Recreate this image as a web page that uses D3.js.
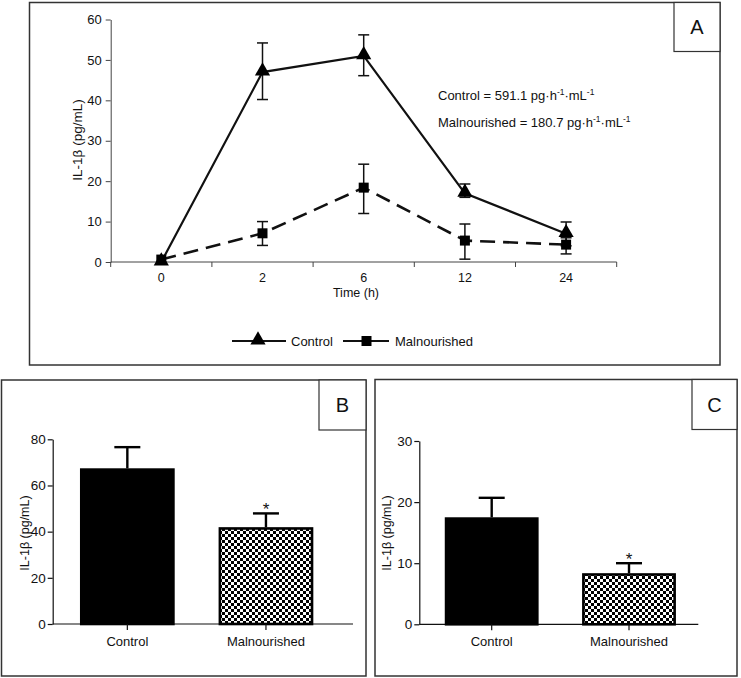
<!DOCTYPE html>
<html><head><meta charset="utf-8">
<script src="https://cdn.jsdelivr.net/npm/d3@7"></script>
<style>body{margin:0;background:#fff}svg{display:block}text{font-family:"Liberation Sans",Arial,sans-serif;fill:#111}</style>
</head><body>
<svg id="c" width="741" height="678"></svg>
<script>
// ---- Data ----
const timeLabels = ["0","2","6","12","24"];
const controlMean = [0, 47, 51, 17, 7];
const controlLow  = [0, 40.2, 46.1, 16, 4];
const controlHigh = [0, 54.2, 56.2, 19.3, 9.9];
const malMean = [0.6, 7.1, 18.4, 5.3, 4.3];
const malLow  = [0.3, 4.1, 12, 0.7, 2];
const malHigh = [0.9, 10, 24.2, 9.4, 6];
const yTicksA = [0,10,20,30,40,50,60];
const groups = ["Control","Malnourished"];
const barB = [67.4, 41.9];
const errB = [76.6, 47.9];
const yTicksB = [0,20,40,60,80];
const barC = [17.5, 8.35];
const errC = [20.7, 10.0];
const yTicksC = [0,10,20,30];
const aucText = [["Control = 591.1 pg","·h","-1","·mL","-1"],["Malnourished = 180.7 pg","·h","-1","·mL","-1"]];

const svg = d3.select("#c");
const defs = svg.append("defs");
const pat = defs.append("pattern").attr("id","chk").attr("patternUnits","userSpaceOnUse")
  .attr("width",6).attr("height",6);
pat.append("rect").attr("width",6).attr("height",6).attr("fill","#fff");
pat.append("rect").attr("width",3).attr("height",3).attr("fill","#000");
pat.append("rect").attr("x",3).attr("y",3).attr("width",3).attr("height",3).attr("fill","#000");

function panel(x,y,w,h,letter,bw,bh){
  svg.append("rect").attr("x",x).attr("y",y).attr("width",w).attr("height",h)
    .attr("fill","none").attr("stroke","#333").attr("stroke-width",1.5);
  svg.append("rect").attr("x",x+w-bw).attr("y",y).attr("width",bw).attr("height",bh)
    .attr("fill","#fff").attr("stroke","#333").attr("stroke-width",1.2);
  svg.append("text").attr("x",x+w-bw/2).attr("y",y+bh/2+7).attr("text-anchor","middle")
    .attr("font-size",20).text(letter);
}

// ---- Panel A ----
panel(29.5,2.5,690.5,362.5,"A",46,49);
const xA = d3.scaleBand().domain(timeLabels).range([110.7,616.7]);
const yA = d3.scaleLinear().domain([0,60]).range([262,19.5]);
const gA = svg.append("g");
const axA = gA.append("g").attr("transform","translate(110.7,0)")
  .call(d3.axisLeft(yA).tickValues(yTicksA).tickSize(5).tickSizeOuter(0));
axA.select(".domain").attr("stroke","#444");
axA.selectAll(".tick line").attr("stroke","#444");
axA.selectAll(".tick text").attr("font-size",13).attr("x",-9).attr("fill","#111");
// x axis
gA.append("line").attr("x1",110.7).attr("x2",616.7).attr("y1",yA(0)).attr("y2",yA(0)).attr("stroke","#444");
const bounds = timeLabels.map(t=>xA(t)).concat([xA(timeLabels[timeLabels.length-1])+xA.bandwidth()]);
gA.selectAll(".xt").data(bounds).join("line").attr("x1",d=>d).attr("x2",d=>d)
  .attr("y1",yA(0)).attr("y2",yA(0)+5).attr("stroke","#444");
gA.selectAll(".xl").data(timeLabels).join("text").attr("x",d=>xA(d)+xA.bandwidth()/2)
  .attr("y",282).attr("text-anchor","middle").attr("font-size",12.5).text(d=>d);
gA.append("text").attr("x",356).attr("y",297).attr("text-anchor","middle").attr("font-size",12.5).text("Time (h)");
gA.append("text").attr("transform","translate(82,140) rotate(-90)").attr("text-anchor","middle")
  .attr("font-size",13.5).text("IL-1β (pg/mL)");
const cx = i => xA(timeLabels[i]) + xA.bandwidth()/2;

function errbars(low,high){
  low.forEach((l,i)=>{
    if(high[i]-l < 0.8) return;
    gA.append("line").attr("x1",cx(i)).attr("x2",cx(i)).attr("y1",yA(l)).attr("y2",yA(high[i])).attr("stroke","#111").attr("stroke-width",1.5);
    [l,high[i]].forEach(v=>gA.append("line").attr("x1",cx(i)-5.5).attr("x2",cx(i)+5.5).attr("y1",yA(v)).attr("y2",yA(v)).attr("stroke","#111").attr("stroke-width",1.5));
  });
}
errbars(malLow,malHigh);
errbars(controlLow,controlHigh);
const line = d3.line().x((d,i)=>cx(i)).y(d=>yA(d));
gA.append("path").datum(malMean).attr("d",line).attr("fill","none").attr("stroke","#111")
  .attr("stroke-width",2.6).attr("stroke-dasharray","15,8");
gA.append("path").datum(controlMean).attr("d",line).attr("fill","none").attr("stroke","#111").attr("stroke-width",2.2);
const tri = d3.symbol().type(d3.symbolTriangle).size(100);
const sq = d3.symbol().type(d3.symbolSquare).size(100);
gA.selectAll(".sq").data(malMean).join("path").attr("d",sq)
  .attr("transform",(d,i)=>`translate(${cx(i)},${yA(d)})`).attr("fill","#000");
gA.selectAll(".tr").data(controlMean).join("path").attr("d",tri)
  .attr("transform",(d,i)=>`translate(${cx(i)},${yA(d)-1})`).attr("fill","#000");
// AUC text
aucText.forEach((parts,k)=>{
  const t = gA.append("text").attr("x",438).attr("y",99.5+k*27).attr("font-size",13);
  t.append("tspan").text(parts[0]);
  t.append("tspan").text(parts[1]);
  t.append("tspan").attr("dy",-5).attr("font-size",8.5).text(parts[2]);
  t.append("tspan").attr("dy",5).text(parts[3]);
  t.append("tspan").attr("dy",-5).attr("font-size",8.5).text(parts[4]);
});
// legend
const lg = svg.append("g");
lg.append("line").attr("x1",232).attr("x2",286).attr("y1",341).attr("y2",341).attr("stroke","#111").attr("stroke-width",2.2);
lg.append("path").attr("d",tri).attr("transform","translate(258,340)").attr("fill","#000");
lg.append("text").attr("x",291).attr("y",345.5).attr("font-size",13).text(groups[0]);
lg.append("line").attr("x1",343).attr("x2",389).attr("y1",341).attr("y2",341).attr("stroke","#111").attr("stroke-width",2.2);
lg.append("path").attr("d",sq).attr("transform","translate(366.5,341)").attr("fill","#000");
lg.append("text").attr("x",395).attr("y",345.5).attr("font-size",13).text(groups[1]);

// ---- Bar panels ----
function barPanel(opt){
  panel(opt.px,opt.py,opt.pw,opt.ph,opt.letter,opt.bw,50);
  const g = svg.append("g");
  const y = d3.scaleLinear().domain([0,opt.max]).range([opt.y0,opt.yTop]);
  const ax = g.append("g").attr("transform",`translate(${opt.xAxis},0)`)
    .call(d3.axisLeft(y).tickValues(opt.ticks).tickSize(5).tickSizeOuter(0));
  ax.select(".domain").attr("stroke","#111").attr("stroke-width",1.2);
  ax.selectAll(".tick line").attr("stroke","#111").attr("stroke-width",1.2);
  ax.selectAll(".tick text").attr("font-size",13.5).attr("x",-7).attr("fill","#111");
  const x = d3.scaleBand().domain(groups).range(opt.band).paddingInner(0.318).paddingOuter(0.152);
  g.append("line").attr("x1",opt.xAxis).attr("x2",opt.xEnd).attr("y1",y(0)).attr("y2",y(0)).attr("stroke","#111").attr("stroke-width",1.2);
  groups.forEach((gr,i)=>{
    const c = x(gr)+x.bandwidth()/2;
    g.append("line").attr("x1",c).attr("x2",c).attr("y1",y(opt.err[i])).attr("y2",y(opt.vals[i])).attr("stroke","#000").attr("stroke-width",2.4);
    g.append("line").attr("x1",c-13).attr("x2",c+13).attr("y1",y(opt.err[i])).attr("y2",y(opt.err[i])).attr("stroke","#000").attr("stroke-width",2.4);
    g.append("rect").attr("x",x(gr)+1.2).attr("y",y(opt.vals[i])+1.2).attr("width",x.bandwidth()-2.4)
      .attr("height",y(0)-y(opt.vals[i])-1.2).attr("fill",i===0?"#000":"url(#chk)").attr("stroke","#000").attr("stroke-width",2.6);
    g.append("line").attr("x1",c).attr("x2",c).attr("y1",y(0)).attr("y2",y(0)+6).attr("stroke","#111").attr("stroke-width",1.2);
    g.append("text").attr("x",c).attr("y",y(0)+22).attr("text-anchor","middle").attr("font-size",13).text(gr);
  });
  const c1 = x(groups[1])+x.bandwidth()/2;
  g.append("text").attr("x",c1).attr("y",y(opt.err[1])+2).attr("text-anchor","middle").attr("font-size",17).text("*");
  g.append("text").attr("transform",`translate(${opt.labX},533) rotate(-90)`).attr("text-anchor","middle")
    .attr("font-size",12.5).text("IL-1β (pg/mL)");
}
barPanel({px:1.5,py:380,pw:364.5,ph:296,letter:"B",bw:47,xAxis:52.7,xEnd:353,band:[59,334.3],y0:624,yTop:439.3,max:80,ticks:yTicksB,vals:barB,err:errB,labX:29});
barPanel({px:375,py:379.5,pw:362,ph:296.5,letter:"C",bw:45,xAxis:419.3,xEnd:698.3,band:[424,696.7],y0:624.3,yTop:441,max:30,ticks:yTicksC,vals:barC,err:errC,labX:391});
</script>
</body></html>
